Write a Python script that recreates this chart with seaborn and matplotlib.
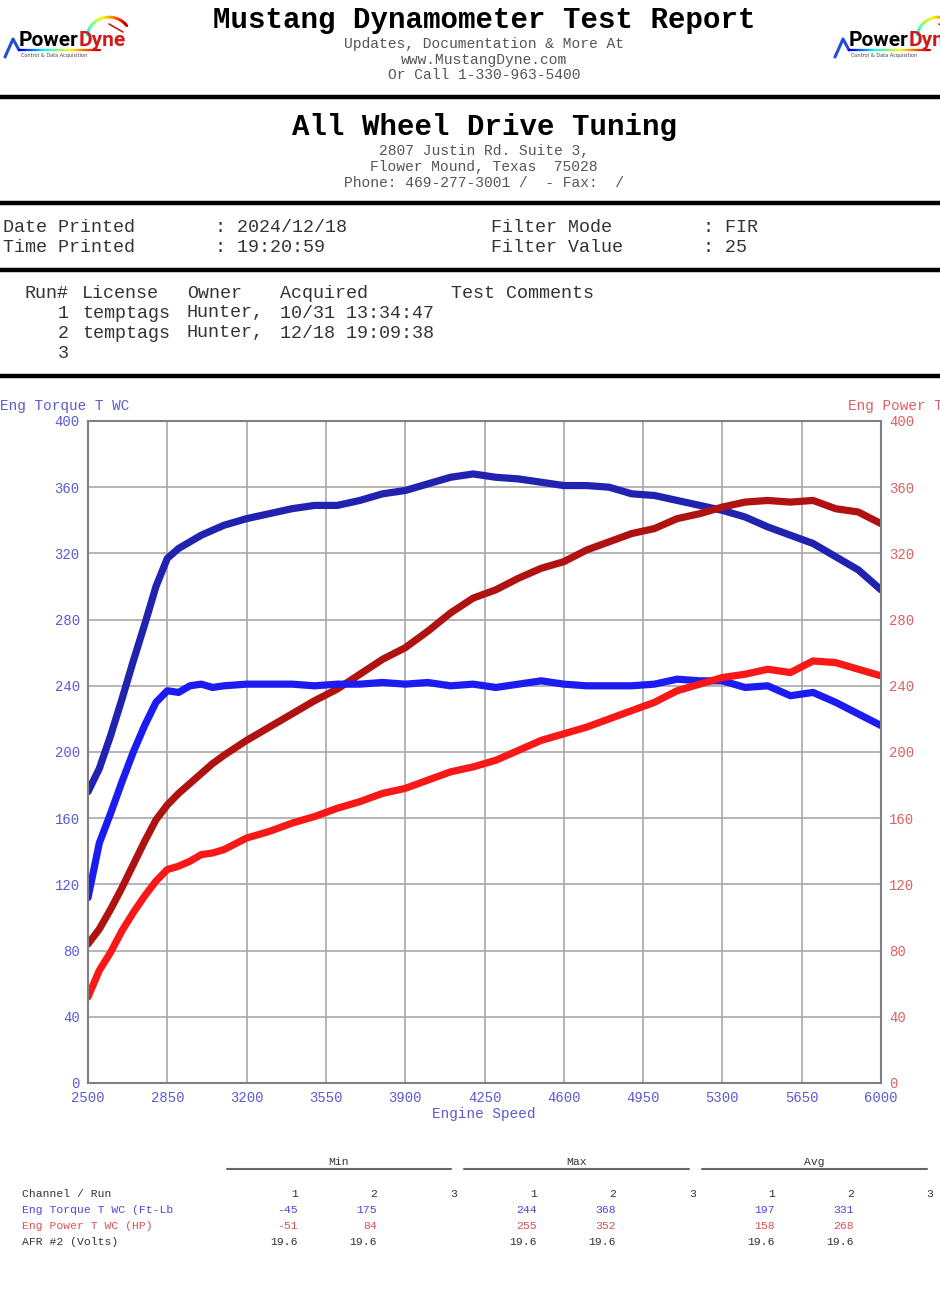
import matplotlib
matplotlib.use("Agg")
import matplotlib.pyplot as plt
import numpy as np
import pandas as pd
import seaborn as sns

# engine speed grid (rpm)
rpm = [2500, 2550, 2600, 2650, 2700, 2750, 2800, 2850, 2900, 2950, 3000, 3050, 3100,
       3200, 3300, 3400, 3500, 3600, 3700, 3800, 3900, 4000, 4100, 4200, 4300, 4400,
       4500, 4600, 4700, 4800, 4900, 5000, 5100, 5200, 5300, 5400, 5500, 5600, 5700,
       5800, 5900, 6000]

# run 2 (dark colours)
torque_run2 = [176, 190, 210, 232, 255, 277, 300, 317, 323, 327, 331, 334, 337,
               341, 344, 347, 349, 349, 352, 356, 358, 362, 366, 368, 366, 365,
               363, 361, 361, 360, 356, 355, 352, 349, 346, 342, 336, 331, 326,
               318, 310, 298]
power_run2 = [84, 93, 105, 118, 132, 146, 159, 168, 175, 181, 187, 193, 198,
              207, 215, 223, 231, 238, 247, 256, 263, 273, 284, 293, 298, 305,
              311, 315, 322, 327, 332, 335, 341, 344, 348, 351, 352, 351, 352,
              347, 345, 338]

# run 1 (bright colours)
torque_run1 = [112, 145, 163, 182, 200, 216, 230, 237, 236, 240, 241, 239, 240,
               241, 241, 241, 240, 241, 241, 242, 241, 242, 240, 241, 239, 241,
               243, 241, 240, 240, 240, 241, 244, 243, 243, 239, 240, 234, 236,
               230, 223, 216]
power_run1 = [52, 68, 79, 92, 103, 113, 122, 129, 131, 134, 138, 139, 141,
              148, 152, 157, 161, 166, 170, 175, 178, 183, 188, 191, 195, 201,
              207, 211, 215, 220, 225, 230, 237, 241, 245, 247, 250, 248, 255,
              254, 250, 246]

x_ticks = [2500, 2850, 3200, 3550, 3900, 4250, 4600, 4950, 5300, 5650, 6000]
y_ticks = [0, 40, 80, 120, 160, 200, 240, 280, 320, 360, 400]

# summary table
table_channels = ["Eng Torque T WC (Ft-Lb", "Eng Power T WC (HP)", "AFR #2 (Volts)"]
stats_min = [["-45", "175", ""], ["-51", "84", ""], ["19.6", "19.6", ""]]
stats_max = [["244", "368", ""], ["255", "352", ""], ["19.6", "19.6", ""]]
stats_avg = [["197", "331", ""], ["158", "268", ""], ["19.6", "19.6", ""]]

run_headers = ["Run#", "License", "Owner", "Acquired", "Test Comments"]
runs = [
    ("1", "temptags", "Hunter,", "10/31 13:34:47"),
    ("2", "temptags", "Hunter,", "12/18 19:09:38"),
    ("3", "", "", ""),
]

sns.set_style("white")
plt.rcParams["font.family"] = ["Liberation Mono", "DejaVu Sans Mono"]

W, H = 940, 1300
fig = plt.figure(figsize=(W / 100, H / 100), dpi=100)

# overlay in pixel coordinates for the report header / footer
ov = fig.add_axes([0, 0, 1, 1])
ov.set_xlim(0, W)
ov.set_ylim(H, 0)
ov.axis("off")

TXT_BLUE = "#5a5ad2"
TXT_RED = "#e06060"
GRAY = "#555555"
DARK = "#333333"


def logo(x0):
    # blue chevron
    ov.plot([x0 + 0, x0 + 8, x0 + 14], [57, 39, 50], color="#2050d0", lw=2.2,
            solid_capstyle="round")
    # rainbow underline
    cmap = plt.get_cmap("jet")
    xs = np.linspace(x0 + 14, x0 + 95, 30)
    for i in range(len(xs) - 1):
        ov.plot(xs[i:i + 2], [50, 50], color=cmap(0.1 + 0.9 * i / len(xs)), lw=1.6)
    # gauge arc
    th = np.linspace(np.pi * 0.95, np.pi * 0.2, 30)
    cx, cy, r = x0 + 104, 38, 22
    for i in range(len(th) - 1):
        ov.plot(cx + r * np.cos(th[i:i + 2]), cy - r * 0.95 * np.sin(th[i:i + 2]),
                color=cmap(0.35 + 0.65 * i / len(th)), lw=2)
    ov.plot([cx, cx + 14], [cy - 14, cy - 6], color="#c02020", lw=1.2)
    ov.text(x0 + 14, 40, "Power", fontsize=15, fontweight="bold",
            family="Roboto", color="black", va="center", ha="left")
    ov.text(x0 + 74, 40, "Dyne", fontsize=15, fontweight="bold",
            family="Roboto", color="#d01a1a", va="center", ha="left")
    ov.text(x0 + 16, 55, "Control & Data Acquisition", fontsize=3.6,
            family="DejaVu Sans", color="#444444", va="center", ha="left")


logo(5)
logo(835)

ov.text(484, 20, "Mustang Dynamometer Test Report", fontsize=21, fontweight="bold",
        ha="center", va="center", color="black")
ov.text(484, 44, "Updates, Documentation & More At", fontsize=10.5, ha="center",
        va="center", color=GRAY)
ov.text(484, 60, "www.MustangDyne.com", fontsize=10.5, ha="center", va="center",
        color=GRAY)
ov.text(484, 75, "Or Call 1-330-963-5400", fontsize=10.5, ha="center", va="center",
        color=GRAY)

for yy in [97, 203, 270, 376]:
    ov.plot([0, W], [yy, yy], color="black", lw=3.2, solid_capstyle="butt")

ov.text(484, 127, "All Wheel Drive Tuning", fontsize=21, fontweight="bold",
        ha="center", va="center", color="black")
ov.text(484, 151, "2807 Justin Rd. Suite 3,", fontsize=10.5, ha="center",
        va="center", color=GRAY)
ov.text(484, 167, "Flower Mound, Texas  75028", fontsize=10.5, ha="center",
        va="center", color=GRAY)
ov.text(484, 183, "Phone: 469-277-3001 /  - Fax:  /", fontsize=10.5, ha="center",
        va="center", color=GRAY)

info_fs = 13.2
ov.text(3, 227, "Date Printed", fontsize=info_fs, va="center", color=DARK)
ov.text(3, 247, "Time Printed", fontsize=info_fs, va="center", color=DARK)
ov.text(215, 227, ": 2024/12/18", fontsize=info_fs, va="center", color=DARK)
ov.text(215, 247, ": 19:20:59", fontsize=info_fs, va="center", color=DARK)
ov.text(491, 227, "Filter Mode", fontsize=info_fs, va="center", color=DARK)
ov.text(491, 247, "Filter Value", fontsize=info_fs, va="center", color=DARK)
ov.text(703, 227, ": FIR", fontsize=info_fs, va="center", color=DARK)
ov.text(703, 247, ": 25", fontsize=info_fs, va="center", color=DARK)

col_x = [25, 82, 187, 280, 451]
for xh, hd in zip(col_x, run_headers):
    ov.text(xh, 293, hd, fontsize=info_fs, va="center", color=DARK)
for i, (num, lic, owner, acq) in enumerate(runs):
    yy = 313 + 20 * i
    ov.text(69, yy, num, fontsize=info_fs, va="center", ha="right", color=DARK)
    ov.text(82, yy, lic, fontsize=info_fs, va="center", color=DARK)
    ov.text(187, yy, owner, fontsize=info_fs, va="center", color=DARK)
    ov.text(280, yy, acq, fontsize=info_fs, va="center", color=DARK)

# ---- dyno chart ----
ax = fig.add_axes([88 / W, 1 - 1083 / H, 793 / W, 662 / H])
df = pd.DataFrame({
    "rpm": rpm * 4,
    "value": torque_run2 + power_run2 + torque_run1 + power_run1,
    "series": (["Torque run 2"] * len(rpm) + ["Power run 2"] * len(rpm)
               + ["Torque run 1"] * len(rpm) + ["Power run 1"] * len(rpm)),
})
palette = {
    "Torque run 2": "#2222b0",
    "Power run 2": "#b01212",
    "Torque run 1": "#1c1cf0",
    "Power run 1": "#f81818",
}
sns.lineplot(data=df, x="rpm", y="value", hue="series", palette=palette,
             linewidth=5.2, legend=False, ax=ax, solid_capstyle="round",
             solid_joinstyle="round")

ax.set_xlim(2500, 6000)
ax.set_ylim(0, 400)
ax.set_xticks(x_ticks)
ax.set_yticks(y_ticks)
ax.grid(True, color="#a8a8a8", lw=1.2)
ax.set_axisbelow(True)
for sp in ax.spines.values():
    sp.set_color("#808080")
    sp.set_linewidth(1.5)
ax.tick_params(axis="x", length=0, pad=6, labelsize=10, labelcolor=TXT_BLUE)
ax.tick_params(axis="y", length=0, pad=6, labelsize=10, labelcolor=TXT_BLUE)
ax.set_xlabel("")
ax.set_ylabel("")

ax2 = ax.twinx()
ax2.set_ylim(0, 400)
ax2.set_yticks(y_ticks)
ax2.tick_params(axis="y", length=0, pad=6, labelsize=10, labelcolor=TXT_RED)
for sp in ax2.spines.values():
    sp.set_visible(False)

ov.text(0, 406, "Eng Torque T WC", fontsize=10.4, va="center", color=TXT_BLUE)
ov.text(848, 406, "Eng Power T WC", fontsize=10.4, va="center", color=TXT_RED)
ov.text(484, 1114, "Engine Speed", fontsize=10.4, ha="center", va="center",
        color=TXT_BLUE)

# ---- summary table ----
tfs = 8.2
groups = [("Min", 227, 451, [298, 377, 457], stats_min),
          ("Max", 464, 689, [537, 616, 696], stats_max),
          ("Avg", 702, 927, [775, 854, 933], stats_avg)]
row_y = [1194, 1210, 1226, 1242]
row_col = [DARK, "#4848e0", "#e05050", DARK]
ov.text(22, row_y[0], "Channel / Run", fontsize=tfs, va="center", color=DARK)
for r, name in enumerate(table_channels):
    ov.text(22, row_y[r + 1], name, fontsize=tfs, va="center", color=row_col[r + 1])
for title, x0, x1, cols, vals in groups:
    ov.text((x0 + x1) / 2, 1162, title, fontsize=tfs, ha="center", va="center",
            color=DARK)
    ov.plot([x0, x1], [1169, 1169], color="#666666", lw=1.5)
    for c, xc in enumerate(cols):
        ov.text(xc, row_y[0], str(c + 1), fontsize=tfs, ha="right", va="center",
                color=DARK)
        for r in range(3):
            ov.text(xc, row_y[r + 1], vals[r][c], fontsize=tfs, ha="right",
                    va="center", color=row_col[r + 1])

fig.savefig("out.png", dpi=100)
